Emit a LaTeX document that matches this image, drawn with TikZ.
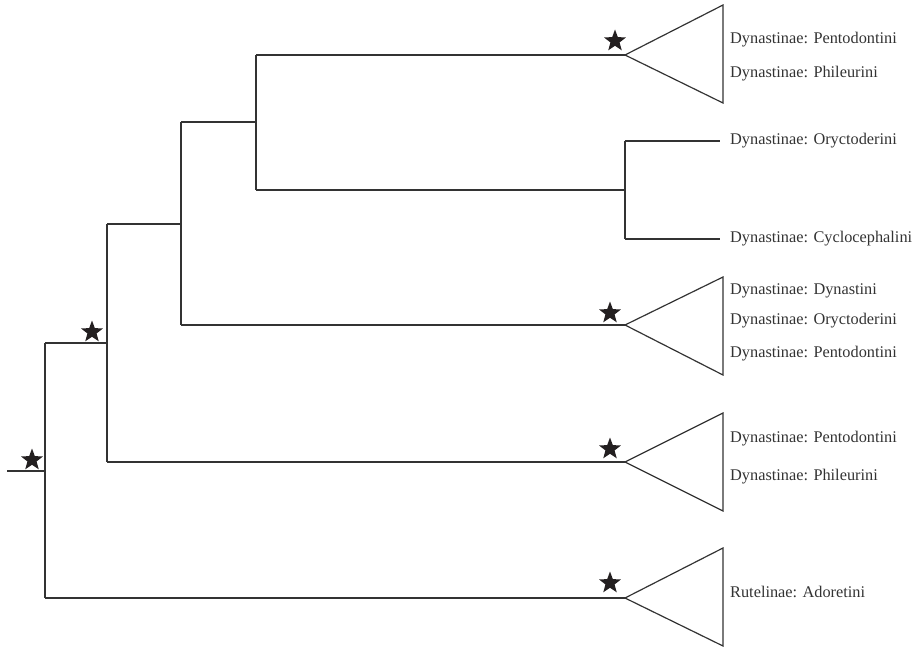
\documentclass[tikz,border=0pt]{standalone}
\usepackage{fontspec}
\setmainfont{Liberation Serif}
\usetikzlibrary{shapes.geometric}
\definecolor{ln}{HTML}{333333}
\definecolor{st}{HTML}{231F20}
\tikzset{
  br/.style={draw=ln, line width=1.2pt},
  tri/.style={draw=ln, line width=1.2pt, line join=miter},
  starmark/.style={star, star points=5, star point ratio=2.4, fill=st, draw=none, minimum size=23pt, inner sep=0pt},
  lab/.style={anchor=west, inner sep=0pt, font=\fontsize{16.3}{18}\selectfont, text=ln}
}
\begin{document}
\begin{tikzpicture}[x=1pt, y=-1pt]
\useasboundingbox (0,0) rectangle (918,647);
% internal nodes
\coordinate (stub) at (7,471);
\coordinate (r) at (45,471);
\coordinate (rT) at (45,343);
\coordinate (rB) at (45,598);
\coordinate (n1) at (107,343);
\coordinate (n1T) at (107,224);
\coordinate (n1B) at (107,462);
\coordinate (n2) at (181,224);
\coordinate (n2T) at (181,122);
\coordinate (n2B) at (181,325);
\coordinate (n3) at (256,122);
\coordinate (n3T) at (256,55);
\coordinate (n3B) at (256,190);
\coordinate (n4) at (625,190);
\coordinate (n4T) at (625,141);
\coordinate (n4B) at (625,239);
% clade apices
\coordinate (c1) at (625,55);
\coordinate (c2) at (625,325);
\coordinate (c3) at (625,462);
\coordinate (c4) at (625,598);
% triangle base corners
\coordinate (c1a) at (723,5);   \coordinate (c1b) at (723,103);
\coordinate (c2a) at (723,277); \coordinate (c2b) at (723,375);
\coordinate (c3a) at (723,413); \coordinate (c3b) at (723,511);
\coordinate (c4a) at (723,548); \coordinate (c4b) at (723,646);
% leaves of the single pair
\coordinate (l1) at (720,141);
\coordinate (l2) at (720,239);

% branches
\draw[br] (stub) -- (r);
\draw[br] (rT) -- (rB);
\draw[br] (rT) -- (n1);
\draw[br] (rB) -- (c4);
\draw[br] (n1T) -- (n1B);
\draw[br] (n1B) -- (c3);
\draw[br] (n1T) -- (n2);
\draw[br] (n2T) -- (n2B);
\draw[br] (n2B) -- (c2);
\draw[br] (n2T) -- (n3);
\draw[br] (n3T) -- (n3B);
\draw[br] (n3T) -- (c1);
\draw[br] (n3B) -- (n4);
\draw[br] (n4T) -- (n4B);
\draw[br] (n4T) -- (l1);
\draw[br] (n4B) -- (l2);

% triangles
\draw[tri] (c1) -- (c1a) -- (c1b) -- cycle;
\draw[tri] (c2) -- (c2a) -- (c2b) -- cycle;
\draw[tri] (c3) -- (c3a) -- (c3b) -- cycle;
\draw[tri] (c4) -- (c4a) -- (c4b) -- cycle;

% stars
\node[starmark] (s0) at (32,460) {};
\node[starmark] (s1) at (92,332) {};
\node[starmark] (s2) at (615,41) {};
\node[starmark] (s3) at (610,313) {};
\node[starmark] (s4) at (610,449) {};
\node[starmark] (s5) at (610,583) {};

% labels
\node[lab] (t1) at (730,40) {Dynastinae: Pentodontini};
\node[lab] (t2) at (730,74) {Dynastinae: Phileurini};
\node[lab] (t3) at (730,141) {Dynastinae: Oryctoderini};
\node[lab] (t4) at (730,239) {Dynastinae: Cyclocephalini};
\node[lab] (t5) at (730,291) {Dynastinae: Dynastini};
\node[lab] (t6) at (730,321) {Dynastinae: Oryctoderini};
\node[lab] (t7) at (730,354) {Dynastinae: Pentodontini};
\node[lab] (t8) at (730,439) {Dynastinae: Pentodontini};
\node[lab] (t9) at (730,477) {Dynastinae: Phileurini};
\node[lab] (t10) at (730,592) {Rutelinae: Adoretini};
\end{tikzpicture}
\end{document}
